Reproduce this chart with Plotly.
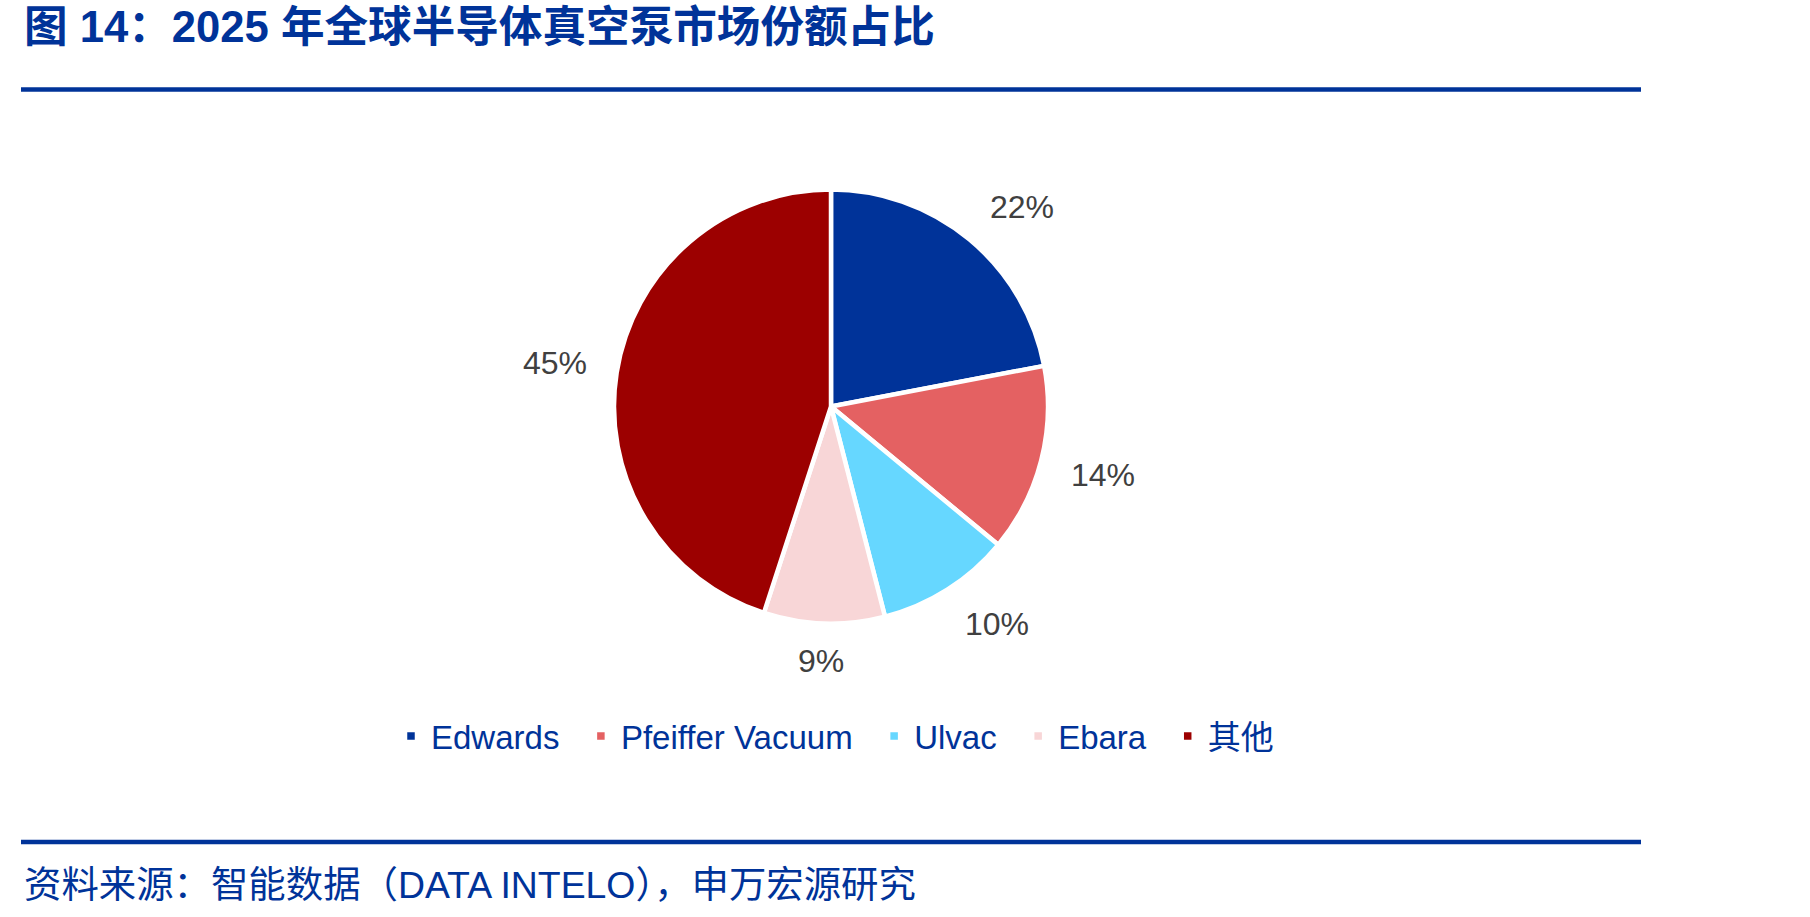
import math
import plotly.graph_objects as go

# ---- data ----
companies = ["Edwards", "Pfeiffer Vacuum", "Ulvac", "Ebara", "其他"]
shares = [22, 14, 10, 9, 45]
colors = ["#003399", "#E46162", "#66D7FF", "#F8D6D7", "#9C0000"]
title_text = "图 14：2025 年全球半导体真空泵市场份额占比"
source_text = "资料来源：智能数据（DATA INTELO），申万宏源研究"

# ---- layout constants ----
W, H = 1810, 917
BLUE = "#003399"
FONT = "Liberation Sans, Arial, Noto Sans CJK SC, sans-serif"
cx, cy, r = 831, 406.5, 217  # pie centre / radius in px

# legend entries get a little trailing room (en space) to match the spacing
legend_names = [c + "\u2002" for c in companies]

fig = go.Figure(
    go.Pie(
        labels=legend_names,
        values=shares,
        sort=False,
        direction="clockwise",
        rotation=0,
        marker=dict(colors=colors, line=dict(color="white", width=4.5)),
        textinfo="none",
        hoverinfo="label+percent",
        domain=dict(x=[(cx - r) / W, (cx + r) / W],
                    y=[1 - (cy + r) / H, 1 - (cy - r) / H]),
    )
)

def clamp(v, lo=-1.0, hi=1.0):
    return max(lo, min(hi, v))

# percentage labels placed outside each slice, derived from the data
total = sum(shares)
cum = 0.0
label_font = 32
annotations = []
for v in shares:
    mid = (cum + v / 2) / total * 2 * math.pi
    cum += v
    dx, dy = math.sin(mid), -math.cos(mid)
    txt = f"{round(v / total * 100)}%"
    hw = 0.55 * label_font * (0.556 * (len(txt) - 1) + 0.889)
    hh = 11
    dist = r + 27
    px = cx + dist * dx + hw * clamp(3 * dx)
    py = cy + dist * dy + hh * clamp(3 * dy)
    annotations.append(dict(
        text=txt, x=px / W, y=1 - py / H, xref="paper", yref="paper",
        xanchor="center", yanchor="middle", showarrow=False,
        font=dict(family=FONT, size=label_font, color="#404040"),
    ))

annotations.append(dict(
    text=title_text, x=22 / W, y=1 - 27 / H, xref="paper", yref="paper",
    xanchor="left", yanchor="middle", showarrow=False,
    font=dict(family=FONT, size=43.6, color=BLUE, weight="bold"),
))
annotations.append(dict(
    text=source_text, x=22 / W, y=1 - 885 / H, xref="paper", yref="paper",
    xanchor="left", yanchor="middle", showarrow=False,
    font=dict(family=FONT, size=37.4, color=BLUE),
))

shapes = [
    dict(type="line", xref="paper", yref="paper", x0=21 / W, x1=1641 / W,
         y0=1 - 89.5 / H, y1=1 - 89.5 / H, line=dict(color=BLUE, width=4.5)),
    dict(type="line", xref="paper", yref="paper", x0=21 / W, x1=1641 / W,
         y0=1 - 842 / H, y1=1 - 842 / H, line=dict(color=BLUE, width=4.5)),
]

fig.update_layout(
    width=W, height=H,
    margin=dict(l=0, r=0, t=0, b=0),
    paper_bgcolor="white", plot_bgcolor="white",
    annotations=annotations,
    shapes=shapes,
    showlegend=True,
    legend=dict(
        orientation="h", x=391 / W, y=1 - 736 / H,
        xanchor="left", yanchor="middle",
        font=dict(family=FONT, size=33, color=BLUE),
        bgcolor="rgba(0,0,0,0)", borderwidth=0,
        itemclick=False, itemdoubleclick=False,
    ),
)

fig.write_html("out.html")
